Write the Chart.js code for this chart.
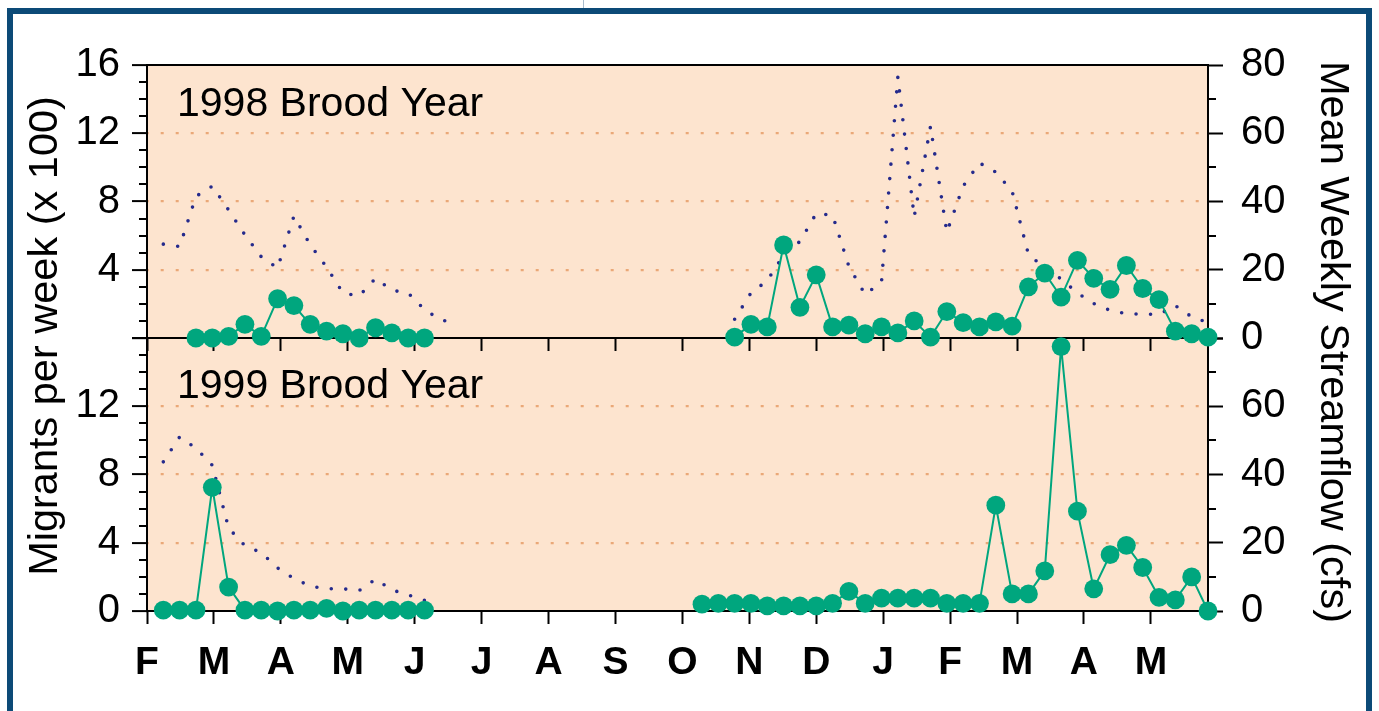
<!DOCTYPE html>
<html>
<head>
<meta charset="utf-8">
<title>Migrants and streamflow, 1998 and 1999 brood years</title>
<script src="https://cdn.jsdelivr.net/npm/chart.js@4.4.1/dist/chart.umd.min.js"></script>
<style>
  html, body { margin: 0; padding: 0; background: #ffffff; }
  #wrap { position: relative; width: 1379px; height: 711px; overflow: hidden; }
  #c { position: absolute; left: 0; top: 0; }
  #frame { position: absolute; left: 7px; top: 8px; width: 1353px; height: 760px;
           border: 6px solid #0c4a77; border-bottom: none; pointer-events: none; }
  #tab { position: absolute; left: 583px; top: 0; width: 1px; height: 8px; background: #a9bccd; }
</style>
</head>
<body>
<div id="wrap">
  <canvas id="c" width="1379" height="711"></canvas>
  <div id="frame"></div>
  <div id="tab"></div>
</div>
<script>
// x positions are weeks counted from 1 February of the first spring shown
const MONTH_LABELS = ['F', 'M', 'A', 'M', 'J', 'J', 'A', 'S', 'O', 'N', 'D', 'J', 'F', 'M', 'A', 'M'];
const MONTH_TICKS  = [0, 4.1, 8.2, 12.3, 16.4, 20.5, 24.6, 28.7, 32.8, 36.9, 41.0, 45.1, 49.2, 53.3, 57.4, 61.5];

const PANEL_LABELS = ['1998 Brood Year', '1999 Brood Year'];
const LEFT_TITLE  = 'Migrants per week (x 100)';
const RIGHT_TITLE = 'Mean Weekly Streamflow (cfs)';

// ---- 1998 brood year ----
// migrants per week (hundreds), first spring
const WEEKS_98_SPRING    = [3, 4, 5, 6, 7, 8, 9, 10, 11, 12, 13, 14, 15, 16, 17];
const MIGRANTS_98_SPRING = [0, 0, 0.1, 0.8, 0.1, 2.3, 1.9, 0.8, 0.4, 0.25, 0, 0.6, 0.3, 0, 0];
// migrants per week (hundreds), fall through the next spring
const WEEKS_98_FALL    = [36, 37, 38, 39, 40, 41, 42, 43, 44, 45, 46, 47, 48, 49, 50,
                          51, 52, 53, 54, 55, 56, 57, 58, 59, 60, 61, 62, 63, 64, 65];
const MIGRANTS_98_FALL = [0.05, 0.8, 0.65, 5.45, 1.8, 3.7, 0.65, 0.75, 0.25, 0.65, 0.3, 1.0, 0.05, 1.55, 0.9,
                          0.65, 0.95, 0.7, 3.0, 3.8, 2.4, 4.55, 3.5, 2.85, 4.25, 2.9, 2.25, 0.4, 0.25, 0.05];
// mean weekly streamflow (cfs)
const FLOW_WEEKS_98_SPRING = [1, 2, 3, 4, 5, 6, 7, 8, 9, 10, 11, 12, 13, 14, 15, 16, 17, 18, 19];
const FLOW_98_SPRING = [27.5, 26.8, 41.5, 44.5, 37.5, 30.2, 23.8, 20.5, 35.7, 27.3,
                        20.8, 13.2, 12.3, 17.5, 14.0, 13.2, 8.3, 5.3, 4.3];
const FLOW_WEEKS_98_FALL = WEEKS_98_FALL;
const FLOW_98_FALL = [5.5, 13.2, 16.8, 24.3, 28.3, 36.5, 36.0, 21.0, 12.7, 16.5, 76.5, 35.5, 62.0, 31.0, 44.5,
                      51.3, 48.6, 43.0, 24.5, 20.5, 17.3, 13.2, 10.1, 8.1, 7.1, 7.0, 6.9, 9.5, 6.2, 4.5];

// ---- 1999 brood year ----
const WEEKS_99_SPRING    = [1, 2, 3, 4, 5, 6, 7, 8, 9, 10, 11, 12, 13, 14, 15, 16, 17];
const MIGRANTS_99_SPRING = [0.05, 0.05, 0.05, 7.25, 1.4, 0.05, 0.05, 0, 0.05, 0.05, 0.15, 0, 0.05, 0.05, 0.05, 0.05, 0.05];
const WEEKS_99_FALL    = [34, 35, 36, 37, 38, 39, 40, 41, 42, 43, 44, 45, 46, 47, 48, 49,
                          50, 51, 52, 53, 54, 55, 56, 57, 58, 59, 60, 61, 62, 63, 64, 65];
const MIGRANTS_99_FALL = [0.4, 0.45, 0.45, 0.45, 0.3, 0.3, 0.3, 0.3, 0.45, 1.15, 0.45, 0.75, 0.75, 0.75, 0.75, 0.45,
                          0.45, 0.45, 6.2, 1.0, 1.0, 2.35, 15.5, 5.85, 1.3, 3.3, 3.85, 2.55, 0.8, 0.65, 2.0, 0];
const FLOW_WEEKS_99_SPRING = WEEKS_99_SPRING;
const FLOW_99_SPRING = [43.7, 51.0, 47.7, 42.7, 24.3, 19.1, 17.1, 12.6, 9.5, 7.3, 6.5, 6.5, 6.0, 9.3, 6.2, 4.7, 3.1];

// ---- styling ----
const FONT = "'Liberation Sans', Arial, Helvetica, sans-serif";
const GREEN = '#00a67e';
const NAVY = '#252a8c';
const PANEL_FILL = '#fde4cf';
const GRID_DOTS = '#eaa878';
const GRID_VALUES = [4, 8, 12];

function points(xs, ys) {
  return xs.map((x, i) => ({ x: x, y: ys[i] }));
}

function migrantsSet(xs, ys, axis) {
  return {
    data: points(xs, ys), xAxisID: 'x', yAxisID: axis,
    borderColor: GREEN, borderWidth: 2, tension: 0,
    pointRadius: 9.4, pointHoverRadius: 9.4, pointBackgroundColor: GREEN,
    pointBorderWidth: 0, clip: false, order: 0
  };
}

function flowSet(xs, ys, axis) {
  return {
    data: points(xs, ys), xAxisID: 'x', yAxisID: axis,
    borderColor: NAVY, borderWidth: 3.6, borderDash: [0, 14.5],
    borderCapStyle: 'round', borderJoinStyle: 'round', tension: 0,
    pointRadius: 0, pointHoverRadius: 0, clip: false, order: 1
  };
}

// peach panel fill behind grid and data
const panelFill = {
  id: 'panelFill',
  beforeDraw(chart) {
    const { ctx, chartArea: a } = chart;
    ctx.save();
    ctx.fillStyle = PANEL_FILL;
    ctx.fillRect(a.left, a.top, a.right - a.left, a.bottom - a.top);
    ctx.restore();
  }
};

// short unlabelled ticks between the labelled ones
const minorTicks = {
  id: 'minorTicks',
  afterDraw(chart) {
    const { ctx, scales } = chart;
    ctx.save();
    ctx.strokeStyle = '#000';
    ctx.lineWidth = 2;
    ctx.beginPath();
    ['yTop', 'yBot'].forEach(id => {
      const s = scales[id];
      for (let v = 1; v < 16; v++) {
        if (v % 4 === 0) continue;
        const y = Math.round(s.getPixelForValue(v));
        ctx.moveTo(s.right - 8, y);
        ctx.lineTo(s.right, y);
      }
    });
    ['yTopR', 'yBotR'].forEach(id => {
      const s = scales[id];
      [10, 30, 50, 70].forEach(v => {
        const y = Math.round(s.getPixelForValue(v));
        ctx.moveTo(s.left, y);
        ctx.lineTo(s.left + 8, y);
      });
    });
    ctx.stroke();
    ctx.restore();
  }
};

// panel names and the two axis titles
const captions = {
  id: 'captions',
  afterDraw(chart) {
    const { ctx, chartArea: a, scales } = chart;
    ctx.save();
    ctx.fillStyle = '#000';
    ctx.textBaseline = 'alphabetic';
    ctx.textAlign = 'left';
    ctx.font = '41px ' + FONT;
    ctx.fillText(PANEL_LABELS[0], a.left + 30, scales.yTop.top + 51);
    ctx.fillText(PANEL_LABELS[1], a.left + 30, scales.yBot.top + 60);

    const midY = (a.top + a.bottom) / 2;
    ctx.font = '41.5px ' + FONT;
    ctx.textAlign = 'center';

    ctx.save();
    ctx.translate(57, midY - 2);
    ctx.rotate(-Math.PI / 2);
    ctx.fillText(LEFT_TITLE, 0, 0);
    ctx.restore();

    ctx.save();
    ctx.translate(1321, midY + 4);
    ctx.rotate(Math.PI / 2);
    ctx.fillText(RIGHT_TITLE, 0, 0);
    ctx.restore();

    ctx.restore();
  }
};

const tickFont = { family: FONT, size: 40 };

function leftAxis(hidden, weight) {
  return {
    type: 'linear', position: 'left', stack: 'left', stackWeight: 1, weight: weight,
    min: 0, max: 16,
    afterFit(s) { s.width = 147; },
    ticks: {
      stepSize: 4, autoSkip: false, padding: 12, color: '#000', font: tickFont,
      callback: v => (v === hidden ? '' : String(v))
    },
    grid: {
      color: c => (c.tick && GRID_VALUES.includes(c.tick.value)) ? GRID_DOTS : 'rgba(0,0,0,0)',
      lineWidth: 2.2, tickColor: '#000', tickWidth: 2, tickLength: 15
    },
    border: { display: true, color: '#000', width: 2, dash: [3, 12], dashOffset: 2.3 }
  };
}

function rightAxis(hidden, weight) {
  return {
    type: 'linear', position: 'right', stack: 'right', stackWeight: 1, weight: weight,
    min: 0, max: 80,
    afterFit(s) { s.width = 171; },
    ticks: {
      stepSize: 20, autoSkip: false, padding: 18, color: '#000', font: tickFont,
      callback: v => (v === hidden ? '' : String(v))
    },
    grid: { drawOnChartArea: false, tickColor: '#000', tickWidth: 2, tickLength: 15 },
    border: { display: true, color: '#000', width: 2 }
  };
}

function monthTicks(scale) {
  scale.ticks = MONTH_TICKS.map(v => ({ value: v }));
}

new Chart(document.getElementById('c'), {
  type: 'line',
  data: {
    datasets: [
      migrantsSet(WEEKS_98_SPRING, MIGRANTS_98_SPRING, 'yTop'),
      migrantsSet(WEEKS_98_FALL, MIGRANTS_98_FALL, 'yTop'),
      migrantsSet(WEEKS_99_SPRING, MIGRANTS_99_SPRING, 'yBot'),
      migrantsSet(WEEKS_99_FALL, MIGRANTS_99_FALL, 'yBot'),
      flowSet(FLOW_WEEKS_98_SPRING, FLOW_98_SPRING, 'yTopR'),
      flowSet(FLOW_WEEKS_98_FALL, FLOW_98_FALL, 'yTopR'),
      flowSet(FLOW_WEEKS_99_SPRING, FLOW_99_SPRING, 'yBotR')
    ]
  },
  options: {
    responsive: false,
    animation: false,
    devicePixelRatio: 1,
    events: [],
    layout: { padding: { top: 65, left: 0, right: 0, bottom: 0 } },
    plugins: { legend: { display: false }, tooltip: { enabled: false } },
    scales: {
      x: {
        type: 'linear', position: 'bottom', min: 0, max: 65,
        afterFit(s) { s.height = 100; },
        afterBuildTicks: monthTicks,
        ticks: {
          autoSkip: false, maxRotation: 0, minRotation: 0, padding: 16, color: '#000',
          font: { family: FONT, size: 39, weight: 'bold' },
          callback: (v, i) => MONTH_LABELS[i]
        },
        grid: { drawOnChartArea: false, tickColor: '#000', tickWidth: 2, tickLength: 13 },
        border: { display: true, color: '#000', width: 2 }
      },
      xMid: {
        type: 'linear', axis: 'x', position: { yTop: 0 }, min: 0, max: 65,
        afterBuildTicks: monthTicks,
        ticks: { display: false, autoSkip: false },
        grid: { drawOnChartArea: false, tickColor: '#000', tickWidth: 2, tickLength: 12 },
        border: { display: true, color: '#000', width: 2 }
      },
      xTop: {
        type: 'linear', axis: 'x', position: { yTop: 16 }, min: 0, max: 65,
        ticks: { display: false },
        grid: { drawOnChartArea: false, drawTicks: false },
        border: { display: true, color: '#000', width: 2 }
      },
      yTop: leftAxis(0, 1),
      yBot: leftAxis(16, 0),
      yTopR: rightAxis(null, 0),
      yBotR: rightAxis(80, 1)
    }
  },
  plugins: [panelFill, minorTicks, captions]
});
</script>
</body>
</html>
